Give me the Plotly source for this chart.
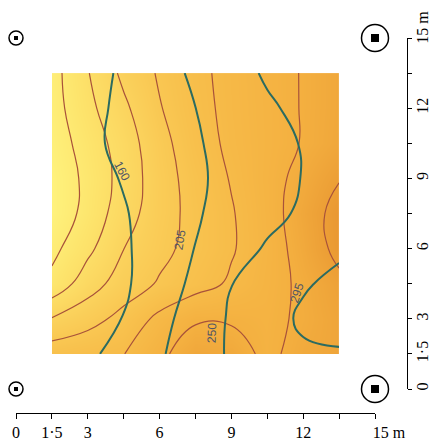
import plotly.graph_objects as go

W, H = 431, 447

# grid nodes (metres)
grid_x = [1.5, 3, 4.5, 6, 7.5, 9, 10.5, 12, 13.5]
grid_y = [1.5, 3, 4.5, 6, 7.5, 9, 10.5, 12, 13.5]

# filled surface (rows bottom -> top)
fill_z = [
    [191.0, 195.3, 199.5, 216.3, 229.6, 228.0, 216.0, 226.5, 232.0],
    [161.1, 172.4, 186.2, 205.0, 218.0, 218.0, 215.0, 223.3, 232.0],
    [125.5, 151.1, 169.1, 182.0, 192.4, 202.7, 212.9, 223.6, 235.5],
    [114.7, 135.2, 159.8, 174.5, 187.0, 198.3, 211.4, 226.9, 245.6],
    [104.9, 126.7, 150.9, 171.6, 186.3, 198.6, 212.4, 229.3, 247.0],
    [104.9, 125.1, 147.2, 171.4, 188.0, 201.2, 213.2, 225.7, 239.0],
    [109.2, 128.5, 149.3, 173.7, 191.6, 203.9, 212.4, 221.0, 230.0],
    [111.9, 134.7, 156.0, 178.8, 194.1, 204.8, 212.7, 221.0, 229.0],
    [112.6, 138.9, 164.5, 182.3, 195.6, 205.3, 213.1, 221.0, 229.0],
]

# second surface (rows bottom -> top), drawn as the thick teal labelled lines
line_z = [
    [127.6, 151.8, 175.9, 200.1, 229.3, 255.3, 272.0, 288.5, 292.0],
    [108.7, 131.2, 161.6, 192.1, 224.3, 255.0, 276.6, 302.0, 307.0],
    [108.9, 131.4, 153.9, 183.4, 214.3, 249.3, 270.1, 290.7, 305.0],
    [102.7, 128.5, 154.3, 180.1, 206.0, 231.4, 254.4, 271.2, 288.0],
    [112.5, 134.6, 156.8, 178.9, 201.0, 220.3, 238.9, 255.9, 270.9],
    [126.8, 144.8, 162.8, 180.8, 198.8, 216.6, 234.3, 251.4, 263.4],
    [135.8, 152.2, 168.5, 184.9, 201.2, 218.3, 235.9, 252.4, 264.4],
    [131.0, 149.4, 167.9, 186.3, 204.8, 224.8, 244.9, 259.0, 271.0],
    [121.3, 143.9, 166.5, 189.0, 211.9, 235.5, 254.6, 266.6, 278.6],
]

# labels of the teal contours
label_text = ["160", "205", "250", "295"]
label_x = [4.43, 6.85, 8.19, 11.74]
label_y = [9.32, 6.37, 2.39, 4.10]
label_angle = [62, -80, -88, -72]

# corner posts
small_post_x = [0, 0]
small_post_y = [15, 0]
big_post_x = [15, 15]
big_post_y = [15, 0]

# axis ticks
tick_vals = [0, 1.5, 3, 4.5, 6, 7.5, 9, 10.5, 12, 13.5, 15]
x_tick_text = ["0", "1·5", "3", "", "6", "", "9", "", "12", "", "\u00a0" * 7 + "15 m"]
y_tick_text = ["0", "1·5", "3", "", "6", "", "9", "", "12", "", "\u00a0" * 4 + "15 m"]

fill_colors = [
    [0.0, "#fff580"],
    [0.2, "#fde46c"],
    [0.4, "#fbd35d"],
    [0.6, "#f8c14d"],
    [0.8, "#f4b040"],
    [1.0, "#e89530"],
]

fig = go.Figure()
fig.add_trace(go.Contour(
    x=grid_x, y=grid_y, z=fill_z,
    colorscale=fill_colors, zmin=100, zmax=250,
    contours=dict(start=120, end=240, size=20, coloring="heatmap", showlines=True),
    line=dict(color="#a8523a", width=1.2, smoothing=1.3),
    showscale=False, hoverinfo="skip",
))
fig.add_trace(go.Contour(
    x=grid_x, y=grid_y, z=line_z,
    contours=dict(start=160, end=295, size=45, coloring="none"),
    line=dict(color="#2b6b61", width=2, smoothing=1.3),
    showscale=False, hoverinfo="skip",
))
fig.add_trace(go.Scatter(x=small_post_x, y=small_post_y, mode="markers", cliponaxis=False,
                         marker=dict(symbol="circle-open", size=14, color="black",
                                     line=dict(width=1.5, color="black")),
                         hoverinfo="skip"))
fig.add_trace(go.Scatter(x=small_post_x, y=small_post_y, mode="markers", cliponaxis=False,
                         marker=dict(symbol="square", size=4, color="black"),
                         hoverinfo="skip"))
fig.add_trace(go.Scatter(x=big_post_x, y=big_post_y, mode="markers", cliponaxis=False,
                         marker=dict(symbol="circle-open", size=27, color="black",
                                     line=dict(width=1.5, color="black")),
                         hoverinfo="skip"))
fig.add_trace(go.Scatter(x=big_post_x, y=big_post_y, mode="markers", cliponaxis=False,
                         marker=dict(symbol="square", size=8, color="black"),
                         hoverinfo="skip"))

for t, lx, ly, ang in zip(label_text, label_x, label_y, label_angle):
    fig.add_annotation(x=lx, y=ly, text=t, textangle=ang, showarrow=False,
                       font=dict(family="Liberation Sans", size=12, color="#4f5566"))

serif = dict(family="Liberation Serif", size=16, color="black")
fig.update_layout(
    width=W, height=H,
    margin=dict(l=0, r=0, t=0, b=0, autoexpand=False),
    paper_bgcolor="white", plot_bgcolor="white",
    showlegend=False,
    xaxis=dict(domain=[16 / W, 375 / W], range=[0, 15], anchor="free",
               position=(H - 413) / H, showline=True, linecolor="black", linewidth=1,
               ticks="outside", ticklen=5, tickwidth=1, tickcolor="black",
               tickmode="array", tickvals=tick_vals, ticktext=x_tick_text,
               tickfont=serif, showgrid=False, zeroline=False, fixedrange=True,
               automargin=False),
    yaxis=dict(domain=[(H - 389) / H, (H - 38) / H], range=[0, 15], anchor="free",
               side="right", position=407 / W, showline=True, linecolor="black", linewidth=1,
               ticks="outside", ticklen=4, tickwidth=1, tickcolor="black",
               tickmode="array", tickvals=tick_vals, ticktext=y_tick_text,
               tickangle=-90, tickfont=serif, showgrid=False, zeroline=False,
               fixedrange=True, automargin=False, ticklabelstandoff=-3),
)

fig.write_html(
    "out.html",
    config={"displayModeBar": False},
    post_script="document.body.style.margin='0';document.body.style.overflow='hidden';",
)
